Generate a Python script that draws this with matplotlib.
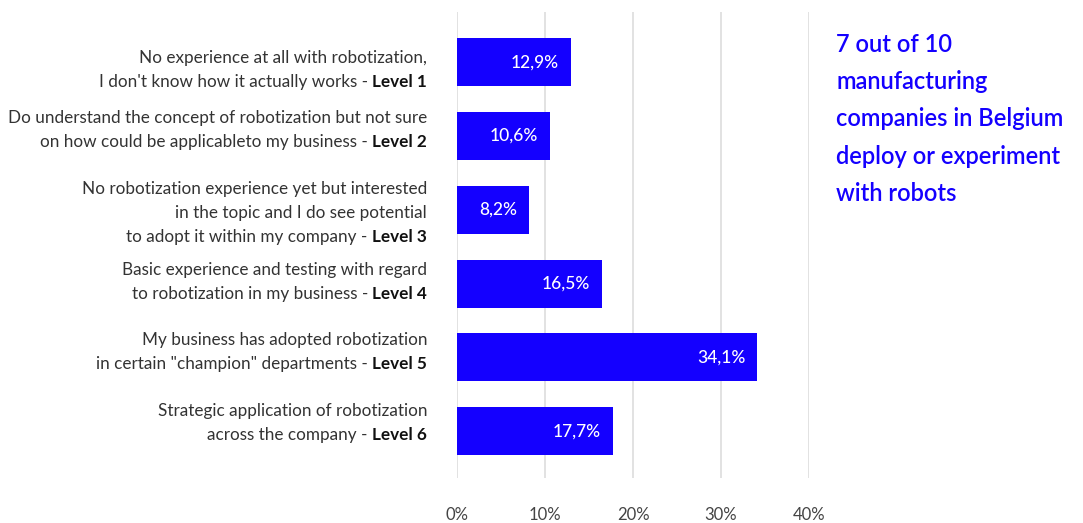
import matplotlib
matplotlib.use("Agg")
import matplotlib.pyplot as plt

# Survey data: robotization maturity levels
descriptions = [
    ["No experience at all with robotization,", "I don't know how it actually works - "],
    ["Do understand the concept of robotization but not sure", "on how could be applicableto my business - "],
    ["No robotization experience yet but interested", "in the topic and I do see potential", "to adopt it within my company - "],
    ["Basic experience and testing with regard", "to robotization in my business - "],
    ["My business has adopted robotization", "in certain \"champion\" departments - "],
    ["Strategic application of robotization", "across the company - "],
]
levels = ["Level 1", "Level 2", "Level 3", "Level 4", "Level 5", "Level 6"]
shares = [12.9, 10.6, 8.2, 16.5, 34.1, 17.7]
x_ticks = [0, 10, 20, 30, 40]
x_tick_labels = ["0%", "10%", "20%", "30%", "40%"]
headline = "7 out of 10\nmanufacturing\ncompanies in Belgium\ndeploy or experiment\nwith robots"

plt.rcParams["font.family"] = ["Lato", "DejaVu Sans"]

BLUE = "#1400FF"
W, H = 1083, 523
fig = plt.figure(figsize=(W / 100, H / 100), dpi=100)

# axes: 0% at x=457px, 40% at x=809px; plot area from y=12px to y=478px
ax = fig.add_axes([457 / W, 1 - 478 / H, (809 - 457) / W, (478 - 12) / H])
ypos = list(range(len(shares)))
ax.barh(ypos, shares, height=0.65, color=BLUE, zorder=3)
ax.set_xlim(0, 40)
ax.set_ylim(5.635, -0.68)

ax.set_xticks(x_ticks)
ax.set_xticklabels(x_tick_labels, fontsize=12, color="#444444")
ax.tick_params(axis="x", length=0, pad=21)
ax.set_yticks([])
ax.grid(axis="x", color="#dddddd", linewidth=1.2, zorder=0)
for s in ax.spines.values():
    s.set_visible(False)

# value labels inside the bars
for y, v in zip(ypos, shares):
    ax.text(v - 1.35, y, f"{v:.1f}%".replace(".", ","), ha="right", va="center",
            color="white", fontsize=12.5, fontweight="medium", zorder=4)

# category labels, right-aligned with the bold level name at the end
label_x = 427 / W
line_h = 24 / H
label_shift_px = [7.5, -6, 3, -1.5, -5, -8.5]
for y, lines, lvl, sh in zip(ypos, descriptions, levels, label_shift_px):
    yc = ax.transData.transform((0, y))[1] / fig.bbox.height - sh / H
    n = len(lines)
    top = yc + (n - 1) * line_h / 2
    for i, ln in enumerate(lines):
        yy = top - i * line_h
        if i == n - 1:
            b = fig.text(label_x, yy, lvl, ha="right", va="center", fontsize=12.3,
                         fontweight="bold", color="#111111")
            ax.annotate(ln, xy=(0, 0.5), xycoords=b, ha="right", va="center",
                        fontsize=12.3, color="#333333", annotation_clip=False)
        else:
            fig.text(label_x, yy, ln, ha="right", va="center", fontsize=12.3, color="#333333")

# headline on the right
fig.text(836 / W, 1 - 33 / H, headline, ha="left", va="top", fontsize=17,
         fontweight="semibold", color=BLUE, linespacing=1.75)

fig.savefig("out.png", dpi=100, facecolor="white")
